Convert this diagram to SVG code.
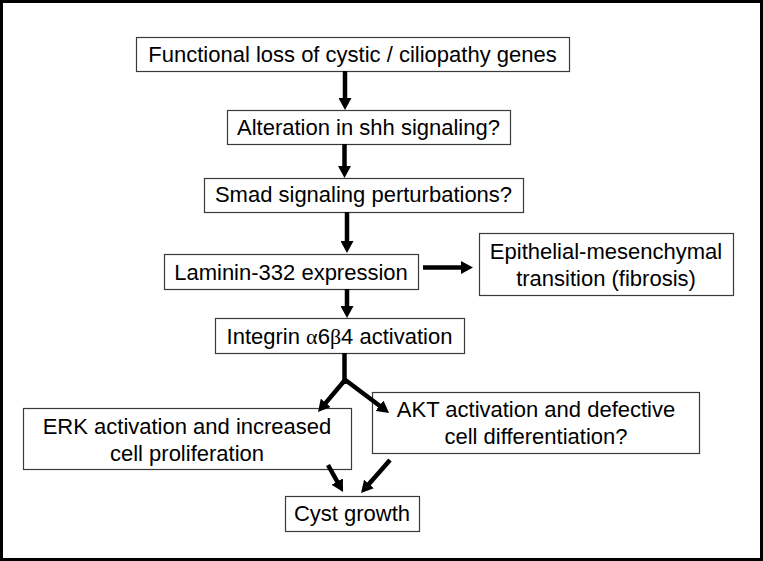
<svg xmlns="http://www.w3.org/2000/svg" width="763" height="561" viewBox="0 0 763 561">
  <style>
    .box { fill: #ffffff; stroke: #3a3a3a; stroke-width: 1.2; }
    .lbl { font-family: "Liberation Sans", Arial, sans-serif; font-size: 22px; fill: #000000; text-anchor: middle; }
    .greek { font-family: "Liberation Serif", "Times New Roman", serif; }
    .arr { fill: none; stroke: #000000; stroke-width: 4.5; marker-end: url(#head); }
    .shaft { fill: none; stroke: #000000; stroke-width: 4.5; }
  </style>
  <defs>
    <marker id="head" markerUnits="userSpaceOnUse" markerWidth="12" markerHeight="13" viewBox="0 0 12 13" refX="1" refY="6.5" orient="auto">
      <path d="M0,0 L12,6.5 L0,13 Z" fill="#000000"/>
    </marker>
  </defs>
  <rect x="0" y="0" width="763" height="561" fill="#ffffff"/>
  <rect x="1.5" y="1.5" width="760" height="558" fill="none" stroke="#000000" stroke-width="3"/>

  <g id="node-functional-loss">
    <rect class="box" x="136.5" y="37.5" width="433" height="34"/>
    <text class="lbl" x="352.5" y="62">Functional loss of cystic / ciliopathy genes</text>
  </g>
  <g id="node-shh">
    <rect class="box" x="227.5" y="110.5" width="283" height="34"/>
    <text class="lbl" x="368.5" y="135">Alteration in shh signaling?</text>
  </g>
  <g id="node-smad">
    <rect class="box" x="204.5" y="178.5" width="319" height="34"/>
    <text class="lbl" x="363.5" y="202">Smad signaling perturbations?</text>
  </g>
  <g id="node-laminin">
    <rect class="box" x="164.5" y="254.5" width="254" height="35"/>
    <text class="lbl" x="291" y="280">Laminin-332 expression</text>
  </g>
  <g id="node-emt">
    <rect class="box" x="479.5" y="233.5" width="254" height="62"/>
    <text class="lbl" x="606" y="259">Epithelial-mesenchymal</text>
    <text class="lbl" x="606" y="285.5">transition (fibrosis)</text>
  </g>
  <g id="node-integrin">
    <rect class="box" x="215.5" y="318.5" width="249" height="35"/>
    <text class="lbl" x="339.5" y="344">Integrin <tspan class="greek">α</tspan>6<tspan class="greek">β</tspan>4 activation</text>
  </g>
  <g id="node-erk">
    <rect class="box" x="23.5" y="408.5" width="328" height="61"/>
    <text class="lbl" x="187" y="434">ERK activation and increased</text>
    <text class="lbl" x="187" y="460.5">cell proliferation</text>
  </g>
  <g id="node-akt">
    <rect class="box" x="372.5" y="392.5" width="327" height="61"/>
    <text class="lbl" x="536" y="417">AKT activation and defective</text>
    <text class="lbl" x="536" y="443.5">cell differentiation?</text>
  </g>
  <g id="node-cyst">
    <rect class="box" x="285.5" y="496.5" width="134" height="35"/>
    <text class="lbl" x="352" y="521">Cyst growth</text>
  </g>

  <g id="connectors">
    <line class="arr" x1="345" y1="71" x2="345" y2="99"/>
    <line class="arr" x1="344.5" y1="144" x2="344.5" y2="167"/>
    <line class="arr" x1="347" y1="212" x2="347" y2="242"/>
    <line class="arr" x1="423" y1="267.5" x2="462" y2="267.5"/>
    <line class="arr" x1="347" y1="289" x2="347" y2="307"/>
    <line class="shaft" x1="344.5" y1="353" x2="344.5" y2="384"/>
    <line class="arr" x1="345" y1="380" x2="325.1" y2="403.6"/>
    <line class="arr" x1="344" y1="379" x2="380.3" y2="406.3"/>
    <line class="arr" x1="328" y1="465" x2="337.7" y2="482.4"/>
    <line class="arr" x1="390" y1="460" x2="368.3" y2="484.7"/>
  </g>
</svg>
